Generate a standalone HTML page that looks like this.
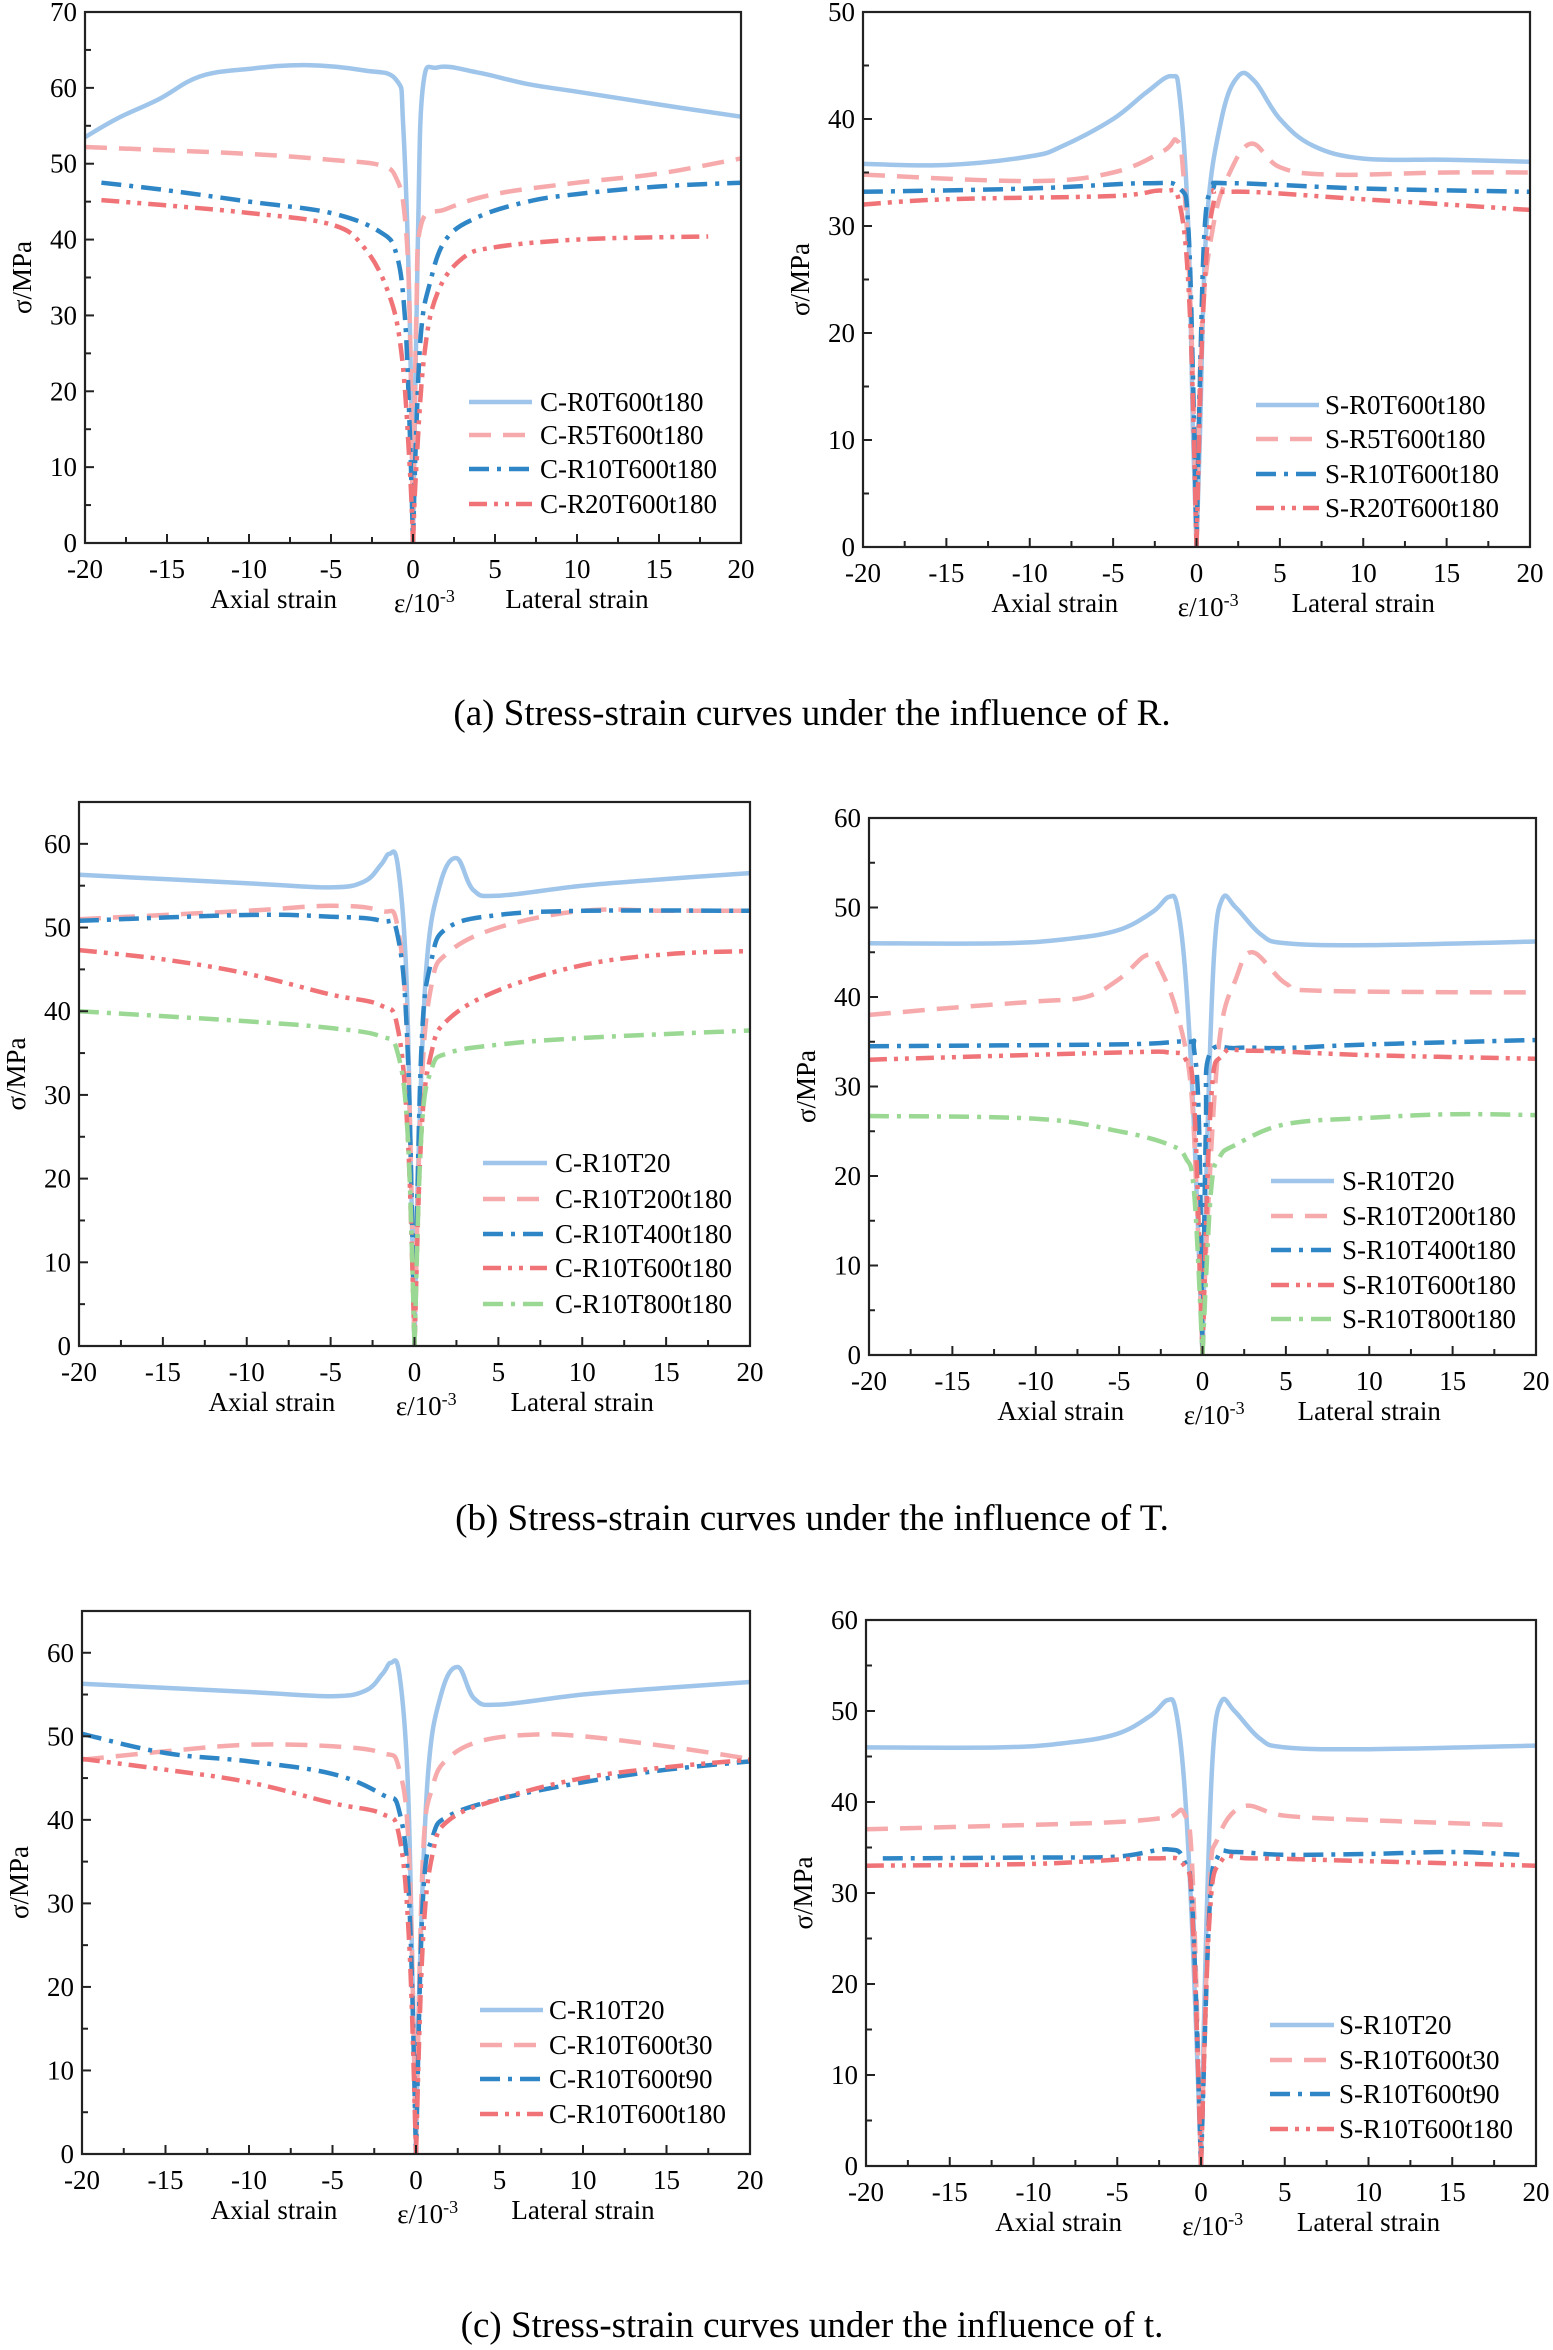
<!DOCTYPE html>
<html><head><meta charset="utf-8">
<style>
html,body{margin:0;padding:0;background:#fff;}
svg{display:block;font-family:"Liberation Serif","DejaVu Serif",serif;}
</style></head>
<body>
<svg id="s" width="1553" height="2350" viewBox="0 0 1553 2350" xmlns="http://www.w3.org/2000/svg">
<text x="812" y="725" font-size="37" text-anchor="middle">(a) Stress-strain curves under the influence of R.</text>
<text x="812" y="1530" font-size="37" text-anchor="middle">(b) Stress-strain curves under the influence of T.</text>
<text x="812" y="2337" font-size="37" text-anchor="middle">(c) Stress-strain curves under the influence of t.</text>
</svg>
<script>
const S=document.getElementById('s');const NS='http://www.w3.org/2000/svg';
const FS=27;
function el(t,a,txt){const e=document.createElementNS(NS,t);for(const k in a)e.setAttribute(k,a[k]);if(txt!==undefined)e.textContent=txt;S.appendChild(e);return e;}
const ST={
 sol:{c:'#9fc5ea',d:''},
 dash:{c:'#f6aaab',d:'22 12'},
 dd:{c:'#2f86c6',d:'20 8 4 8'},
 ddd:{c:'#ef7377',d:'18 7 4 7 4 7'},
 gdd:{c:'#9ad894',d:'20 8 4 8'}
};
function smooth(P){
 let d='M'+P[0][0].toFixed(1)+','+P[0][1].toFixed(1);
 const t=0.18;
 for(let i=0;i<P.length-1;i++){
  const p0=P[Math.max(i-1,0)],p1=P[i],p2=P[i+1],p3=P[Math.min(i+2,P.length-1)];
  let c1=[p1[0]+(p2[0]-p0[0])*t,p1[1]+(p2[1]-p0[1])*t];
  let c2=[p2[0]-(p3[0]-p1[0])*t,p2[1]-(p3[1]-p1[1])*t];
  d+=` C${c1[0].toFixed(1)},${c1[1].toFixed(1)} ${c2[0].toFixed(1)},${c2[1].toFixed(1)} ${p2[0].toFixed(1)},${p2[1].toFixed(1)}`;
 }
 return d;
}
function panel(P){
 const {x0,x1,y0,y1,ymax}=P;
 const X=v=>x0+(v+20)/40*(x1-x0), Y=v=>y1-v/ymax*(y1-y0);
 P.curves.forEach(c=>{
  const s=ST[c.s];
  const L=c.l.concat([[0,0]]).map(p=>[X(p[0]),Y(p[1])]);
  const R=[[0,0]].concat(c.r).map(p=>[X(p[0]),Y(p[1])]);
  el('path',{d:smooth(L)+' '+smooth(R),fill:'none',stroke:s.c,'stroke-width':4.5,'stroke-dasharray':s.d,'stroke-linejoin':'round'});
 });
 el('rect',{x:x0,y:y0,width:x1-x0,height:y1-y0,fill:'none',stroke:'#222','stroke-width':2.2});
 for(let v=-20;v<=20;v+=2.5){const mj=v%5===0;el('line',{x1:X(v),x2:X(v),y1:y1,y2:y1-(mj?9:6),stroke:'#222','stroke-width':2});
  if(mj)el('text',{x:X(v),y:y1+35,'font-size':FS,'text-anchor':'middle'},String(v));}
 for(let v=0;v<=ymax;v+=5){const mj=v%10===0;el('line',{x1:x0,x2:x0+(mj?9:6),y1:Y(v),y2:Y(v),stroke:'#222','stroke-width':2});
  if(mj)el('text',{x:x0-8,y:Y(v)+9,'font-size':FS,'text-anchor':'end'},String(v));}
 const by=y1+65;
 el('text',{x:X(-8.5),y:by,'font-size':FS,'text-anchor':'middle'},'Axial strain');
 el('text',{x:X(10),y:by,'font-size':FS,'text-anchor':'middle'},'Lateral strain');
 const t=el('text',{x:X(0.7),y:by+4,'font-size':FS,'text-anchor':'middle'},'ε/10');
 const sp=document.createElementNS(NS,'tspan');sp.setAttribute('dy','-10');sp.setAttribute('font-size','18');sp.textContent='-3';t.appendChild(sp);
 const yc=(y0+y1)/2;
 el('text',{x:0,y:0,'font-size':FS,'text-anchor':'middle',transform:`translate(${x0-54},${yc}) rotate(-90)`},'σ/MPa');
 P.leg.ys.forEach((yy,i)=>{const c=P.curves[i];const s=ST[c.s];
  el('line',{x1:P.leg.lx,x2:P.leg.lx2,y1:yy,y2:yy,stroke:s.c,'stroke-width':4.5,'stroke-dasharray':s.d});
  el('text',{x:P.leg.tx,y:yy+9,'font-size':FS},c.n);});
}
const bT20L={l:[[-20,56.3],[-10,55.3],[-5,54.8],[-3,55.5],[-2,57.5],[-1.5,58.8],[-1,57.5],[-0.5,45],[-0.2,20]],r:[[0.2,20],[0.7,45],[1.5,55],[2.5,58.3],[3.5,54.5],[5,53.8],[10,55],[15,55.8],[20,56.5]]};
const bT20R={l:[[-20,46],[-12,46],[-8,46.5],[-5,47.5],[-3,49.5],[-2,51.2],[-1.5,50],[-1,42],[-0.5,25]],r:[[0.3,25],[0.7,45],[1.2,51],[2,50],[3.5,47],[5,46],[10,45.8],[20,46.2]]};
panel({x0:85,x1:741,y0:12,y1:543,ymax:70,leg:{ys:[402,435,469,504],lx:469,lx2:532,tx:540},curves:[
 {n:'C-R0T600t180',s:'sol',l:[[-20,53.5],[-18,56],[-15.5,58.5],[-13,61.5],[-10,62.5],[-6.5,63],[-3,62.3],[-1,61],[-0.6,55],[-0.2,30]],r:[[0.3,40],[0.6,60],[1.5,62.7],[4,62],[7,60.5],[10,59.5],[15,57.8],[20,56.2]]},
 {n:'C-R5T600t180',s:'dash',l:[[-20,52.2],[-10,51.3],[-5,50.5],[-2,49.8],[-1,48],[-0.5,43],[-0.2,30]],r:[[0.2,30],[0.5,42],[2,44],[5,46],[10,47.5],[15,48.7],[20,50.7]]},
 {n:'C-R10T600t180',s:'dd',l:[[-19,47.5],[-15,46.5],[-10,45],[-5,43.5],[-2,41],[-1,38],[-0.5,30],[-0.2,15]],r:[[0.2,15],[0.5,28],[1,34],[2,40],[4,43],[7,45],[10,46],[15,47],[20,47.5]]},
 {n:'C-R20T600t180',s:'ddd',l:[[-19,45.2],[-15,44.5],[-10,43.5],[-5,42],[-3,39],[-1.5,33],[-0.7,25],[-0.2,10]],r:[[0.2,10],[0.7,25],[1.5,33],[3,37.5],[5,39],[10,40],[15,40.3],[18,40.4]]}]});
panel({x0:863,x1:1530,y0:12,y1:547,ymax:50,leg:{ys:[405,439,474,508],lx:1256,lx2:1319,tx:1325},curves:[
 {n:'S-R0T600t180',s:'sol',l:[[-20,35.8],[-15,35.7],[-10,36.5],[-8,37.5],[-5,40],[-3,42.5],[-1.5,44],[-1,42],[-0.5,30],[-0.2,10]],r:[[0.2,10],[0.6,30],[1.5,40],[2.5,44],[3.5,43.5],[5,40],[7,37.5],[10,36.3],[15,36.2],[20,36]]},
 {n:'S-R5T600t180',s:'dash',l:[[-20,34.8],[-10,34.2],[-5,35],[-2,37],[-1.2,38],[-0.8,35],[-0.3,20]],r:[[0.3,20],[1,30],[2,35],[3.3,37.7],[5,35.5],[8,34.8],[15,35],[20,35]]},
 {n:'S-R10T600t180',s:'dd',l:[[-20,33.2],[-10,33.5],[-3,34],[-1,33.5],[-0.5,30],[-0.2,15]],r:[[0.2,15],[0.5,30],[1,33.5],[2,34],[10,33.5],[20,33.2]]},
 {n:'S-R20T600t180',s:'ddd',l:[[-20,32],[-15,32.5],[-5,32.8],[-2,33.3],[-1,32],[-0.4,22]],r:[[0.4,22],[1,32],[2,33.2],[10,32.5],[20,31.5]]}]});
panel({x0:79,x1:750,y0:802,y1:1346,ymax:65,leg:{ys:[1163,1199,1234,1268,1304],lx:483,lx2:547,tx:555},curves:[
 Object.assign({n:'C-R10T20',s:'sol'},bT20L),
 {n:'C-R10T200t180',s:'dash',l:[[-20,51],[-10,52],[-5,52.6],[-2,52],[-1,50],[-0.4,35]],r:[[0.4,30],[1,43],[2,47],[5,50],[10,52],[15,52],[20,52]]},
 {n:'C-R10T400t180',s:'dd',l:[[-20,50.8],[-10,51.5],[-5,51.3],[-2,50.8],[-1,49],[-0.4,35]],r:[[0.4,35],[1,46],[2,50],[5,51.5],[10,52],[20,52]]},
 {n:'C-R10T600t180',s:'ddd',l:[[-20,47.3],[-15,46.2],[-10,44.5],[-5,42],[-2,40.7],[-1,38],[-0.4,25]],r:[[0.4,25],[1,35],[2,39],[5,42.5],[10,45.5],[15,46.8],[20,47.2]]},
 {n:'C-R10T800t180',s:'gdd',l:[[-20,40],[-10,38.8],[-5,38],[-2,37],[-1,35],[-0.4,25]],r:[[0.4,25],[1,33],[2,35],[5,36],[10,36.8],[20,37.7]]}]});
panel({x0:869,x1:1536,y0:818,y1:1355,ymax:60,leg:{ys:[1181,1216,1250,1285,1319],lx:1271,lx2:1334,tx:1342},curves:[
 Object.assign({n:'S-R10T20',s:'sol'},bT20R),
 {n:'S-R10T200t180',s:'dash',l:[[-20,38],[-15,38.8],[-10,39.5],[-7,40],[-5,42],[-3.3,44.7],[-2.5,43],[-1.5,38],[-0.7,30],[-0.3,15]],r:[[0.3,15],[1,35],[2,42],[3,45],[5,41.5],[7,40.7],[20,40.5]]},
 {n:'S-R10T400t180',s:'dd',l:[[-20,34.5],[-5,34.7],[-1,35],[-0.5,34],[-0.2,25]],r:[[0.2,25],[0.4,33.5],[2,34.3],[5,34.3],[10,34.7],[20,35.2]]},
 {n:'S-R10T600t180',s:'ddd',l:[[-20,33],[-5,33.8],[-2,33.8],[-1,33],[-0.5,28]],r:[[0.5,28],[1.2,33.5],[3,34],[10,33.5],[20,33.1]]},
 {n:'S-R10T800t180',s:'gdd',l:[[-20,26.7],[-10,26.4],[-5,25],[-2,23.5],[-1,22],[-0.5,18]],r:[[0.5,18],[1,22],[2,23.5],[5,25.8],[10,26.5],[15,26.9],[20,26.8]]}]});
panel({x0:82,x1:750,y0:1611,y1:2154,ymax:65,leg:{ys:[2010,2045,2079,2114],lx:480,lx2:543,tx:549},curves:[
 Object.assign({n:'C-R10T20',s:'sol'},bT20L),
 {n:'C-R10T600t30',s:'dash',l:[[-20,47.2],[-15,48.2],[-10,49],[-5,48.8],[-2,48],[-1,46],[-0.4,35]],r:[[0.4,35],[1,44],[2,47.5],[4,49.5],[7,50.2],[10,50],[15,48.8],[20,47.3]]},
 {n:'C-R10T600t90',s:'dd',l:[[-20,50.3],[-15,48],[-10,47],[-5,45.5],[-2,43],[-1,41],[-0.4,30]],r:[[0.4,30],[1,38],[2,40.5],[5,42.5],[10,44.5],[15,46],[20,47]]},
 {n:'C-R10T600t180',s:'ddd',l:[[-20,47.3],[-15,46],[-10,44.5],[-5,42],[-2,40.7],[-1,38],[-0.4,25]],r:[[0.4,25],[1,36],[2,40],[5,42.5],[10,45],[15,46.3],[20,47.2]]}]});
panel({x0:866,x1:1536,y0:1620,y1:2166,ymax:60,leg:{ys:[2025,2060,2094,2129],lx:1270,lx2:1334,tx:1339},curves:[
 Object.assign({n:'S-R10T20',s:'sol'},bT20R),
 {n:'S-R10T600t30',s:'dash',l:[[-20,37],[-10,37.5],[-5,37.8],[-2,38.3],[-1,38.7],[-0.5,32]],r:[[0.5,30],[1,36],[2.5,39.5],[5,38.5],[10,38],[18,37.5]]},
 {n:'S-R10T600t90',s:'dd',l:[[-19,33.8],[-10,33.9],[-5,34],[-2,34.8],[-1,33.5],[-0.5,28]],r:[[0.5,28],[1,34],[2,34.5],[5,34.2],[10,34.3],[15,34.5],[19,34.2]]},
 {n:'S-R10T600t180',s:'ddd',l:[[-20,33],[-10,33.2],[-3,33.8],[-1,33],[-0.5,27]],r:[[0.5,27],[1.2,33.5],[3,33.8],[10,33.5],[20,33]]}]});
</script>
</body></html>
